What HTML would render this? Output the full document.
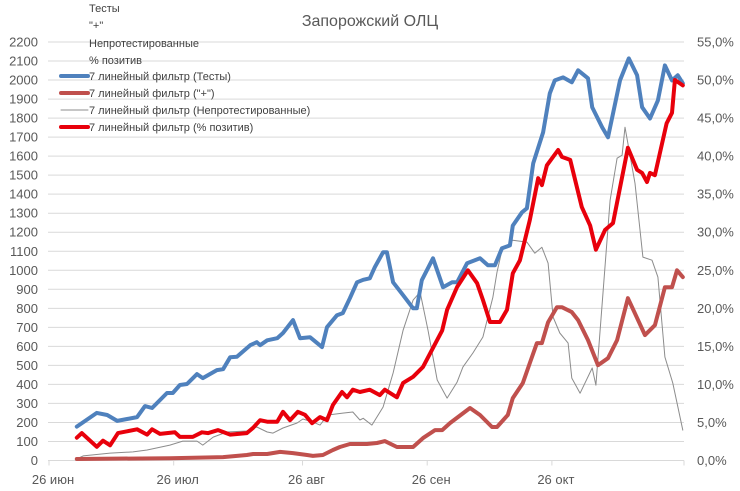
<!DOCTYPE html>
<html><head><meta charset="utf-8">
<style>
body{margin:0;background:#fff;}
svg{display:block;font-family:"Liberation Sans","Noto Sans CJK SC",sans-serif;}
</style></head>
<body>
<svg id="chart" width="740" height="491" viewBox="0 0 740 491" xmlns="http://www.w3.org/2000/svg">
<text x="370" y="26" text-anchor="middle" font-size="16" fill="#595959">Запорожский ОЛЦ</text>
<g id="grid"></g>
<g id="yl"></g>
<g id="yr"></g>
<g id="xa"></g>
<g id="series"></g>
<g id="legend"></g>
</svg>
<script>
const xTickLabels = ["26 июн","26 июл","26 авг","26 сен","26 окт"];
const xTickDays = [0,30,61,91,121];
const leftTicks = [0,100,200,300,400,500,600,700,800,900,1000,1100,1200,1300,1400,1500,1600,1700,1800,1900,2000,2100,2200];
const rightTicks = [0,5,10,15,20,25,30,35,40,45,50,55];

const testsDays = [6.7,11.5,14,16.4,18.8,21.2,23.1,24.8,28.4,29.8,31.5,33.2,35.6,37,40.4,41.9,43.6,45.2,48.4,50,50.8,52.5,54.9,56.3,58.7,60.4,62.8,65.7,66.9,69.3,70.7,72.4,74.1,75.6,77.2,78.4,80.4,81.3,82.8,85.2,87.6,88.5,89.7,92.4,94.8,97,98.2,100.6,103.7,105.6,107.3,109,110.9,111.6,113.8,115,116.5,118.9,120.5,121.7,123.7,125.8,127.3,129.7,130.7,133.1,134.5,137.4,139.5,141.5,142.7,144.6,146.5,148.2,149.9,151.3,152.5];
const testsVals = [178,250,239,208,218,228,286,276,355,355,397,402,454,433,475,480,543,545,606,622,606,632,643,670,738,643,648,596,701,764,775,853,937,950,958,1016,1095,1095,937,869,800,800,948,1063,911,937,937,1037,1063,1026,1026,1116,1131,1235,1305,1326,1562,1725,1930,1998,2014,1988,2051,2009,1857,1751,1699,1998,2114,2025,1857,1798,1893,2077,1998,2025,1983];

const posDays = [6.7,29.1,41.9,47.6,49.1,52.5,55.6,58.7,62.1,63.5,65.9,68.3,70,72.4,76.5,78.9,80.8,83.7,87.6,90,92.9,94.6,96.5,101.3,103.7,106.6,107.8,110.4,111.6,114,115.7,117.4,118.6,120.1,122.2,123.4,125.8,127.3,129.7,132.1,134.5,136.7,139.3,143.4,145.8,148.2,149.9,151.1,152.5];
const posVals = [8,12,18,29,34,34,45,39,29,24,29,55,71,87,87,92,102,71,71,118,160,160,197,276,239,176,176,239,328,407,512,617,617,727,806,806,780,738,633,501,538,633,853,659,711,911,911,1000,964];

const untestedDays = [6.7,8.2,14.7,20.2,23.6,29.1,32.2,35.6,37,39.5,42.8,47.6,50,52.5,53.9,56.3,59.7,61.1,63.5,65.2,67.1,70.7,73.1,74.8,75.6,77.7,80.4,82.8,85.2,87.6,89.3,91.2,93.4,95.8,98.2,99.6,102,104.4,106.8,107.8,109,111.6,115,116.9,118.6,120.1,121.3,122.9,124.9,125.8,127.8,130.7,131.6,133.1,135,136.7,137.9,138.6,141,142.9,145.1,146.5,148.2,150.1,152.5];
const untestedVals = [8,24,39,45,55,81,102,102,81,123,150,155,176,150,144,171,197,218,202,186,239,249,255,213,222,186,281,460,685,843,885,685,423,328,412,491,565,649,859,990,1106,1158,1148,1090,1121,1037,754,670,617,433,354,486,396,827,1368,1589,1605,1752,1457,1069,1053,964,544,407,160];

const pctDays = [6.7,7.9,11.5,13,14.7,16.6,21.2,23.6,24.8,26.7,30.3,31.5,34.6,36.8,38.3,40.7,43.6,47.6,49.1,50.8,52.5,54.9,56.3,58,59.9,61.6,63.3,65.2,66.9,68.3,70.5,71.7,73.1,74.8,77.2,79.6,80.8,83.7,85.2,87.6,90,92.1,94.6,95.8,98.2,100.8,103,104.4,106.1,108.5,110.2,111.6,113.3,115.7,117.7,118.6,119.8,122.5,123.4,125.4,128.2,130.2,131.6,133.8,135.7,139.3,141.5,142.7,143.9,144.6,145.8,148.6,149.9,150.6,152.5];
const pctVals = [3.0,3.6,1.8,2.6,2.0,3.6,4.1,3.4,4.1,3.5,3.7,3.1,3.1,3.7,3.6,4.0,3.4,3.6,4.3,5.3,5.1,5.1,6.4,5.3,6.4,6.0,4.9,5.7,5.3,7.3,9.0,8.3,9.3,9.0,9.3,8.6,9.3,8.3,10.2,11.0,12.3,14.5,17.1,19.8,22.8,25.0,23.3,21.1,18.2,18.2,19.8,24.6,26.3,31.6,37.1,36.2,38.8,40.8,39.9,39.5,33.3,30.9,27.7,30.3,31.2,41.1,38.2,37.8,36.6,37.8,37.5,44.3,45.7,50.0,49.3];

const X0=49, PXDAY=4.156, Y0=460.5, YTOP=42;
const xs = d => X0 + d*PXDAY;
const yl = v => Y0 - v*(Y0-YTOP)/2200;
const yr = p => Y0 - p*(Y0-YTOP)/55;
const NS="http://www.w3.org/2000/svg";
function mk(tag, attrs, parent){const e=document.createElementNS(NS,tag);for(const k in attrs)e.setAttribute(k,attrs[k]);parent.appendChild(e);return e;}

const grid=document.getElementById('grid'), gl=document.getElementById('yl'), gr=document.getElementById('yr'), gx=document.getElementById('xa'), gs=document.getElementById('series'), lg=document.getElementById('legend');
leftTicks.forEach(v=>{
  if(v>0){const l=mk('line',{x1:48,x2:684,y1:yl(v),y2:yl(v),stroke:'#d9d9d9','stroke-width':1},grid);
  
  }
  const t=mk('text',{x:38,y:yl(v)+4.5,'text-anchor':'end','font-size':13,fill:'#595959'},gl);t.textContent=v;
  
  
});
rightTicks.forEach(p=>{
  const t=mk('text',{x:697,y:yr(p)+4.5,'font-size':13,fill:'#595959'},gr);t.textContent=p.toFixed(1).replace('.',',')+'%';
  
  
});
mk('line',{x1:48,x2:684,y1:Y0,y2:Y0,stroke:'#d9d9d9','stroke-width':1},gx);
xTickDays.forEach((d,i)=>{
  mk('line',{x1:xs(d),x2:xs(d),y1:Y0,y2:Y0+5,stroke:'#d9d9d9'},gx);
  const t=mk('text',{x:xs(d)+4,y:484,'text-anchor':'middle','font-size':13,fill:'#595959'},gx);t.textContent=xTickLabels[i];
  
  
});
mk('line',{x1:684,x2:684,y1:Y0,y2:Y0+5,stroke:'#d9d9d9'},gx);

function line(days,vals,fy,color,w,name){
  const d=days.map((dd,i)=>(i?'L':'M')+xs(dd).toFixed(1)+','+fy(vals[i]).toFixed(1)).join(' ');
  const p=mk('path',{d:d,fill:'none',stroke:color,'stroke-width':w,'stroke-linejoin':'round','stroke-linecap':'round'},gs);
  
  
}
line(untestedDays,untestedVals,yl,'#8c8c8c',1,'untested-line');
line(posDays,posVals,yl,'#c0504d',4,'positive-line');
line(testsDays,testsVals,yl,'#4f81bd',4,'tests-line');
line(pctDays,pctVals,yr,'#e8000b',4,'percent-positive-line');

const legTexts=['Тесты','"+"','Непротестированные','% позитив','7 линейный фильтр (Тесты)','7 линейный фильтр ("+")','7 линейный фильтр (Непротестированные)','7 линейный фильтр (% позитив)'];
const legY=[8,25,43,60,76,93,110,127];
const legC=[null,null,null,null,'#4f81bd','#c0504d','#8c8c8c','#e8000b'];
const legW=[0,0,0,0,4,4,1,4];
legTexts.forEach((s,i)=>{
  if(legC[i]){const l=mk('line',{x1:61,x2:88,y1:legY[i],y2:legY[i],stroke:legC[i],'stroke-width':legW[i],'stroke-linecap':'round'},lg);
  
  }
  const t=mk('text',{x:89,y:legY[i]+4,'font-size':11,fill:'#404040'},lg);t.textContent=s;
  
  
});
</script>
</body></html>
